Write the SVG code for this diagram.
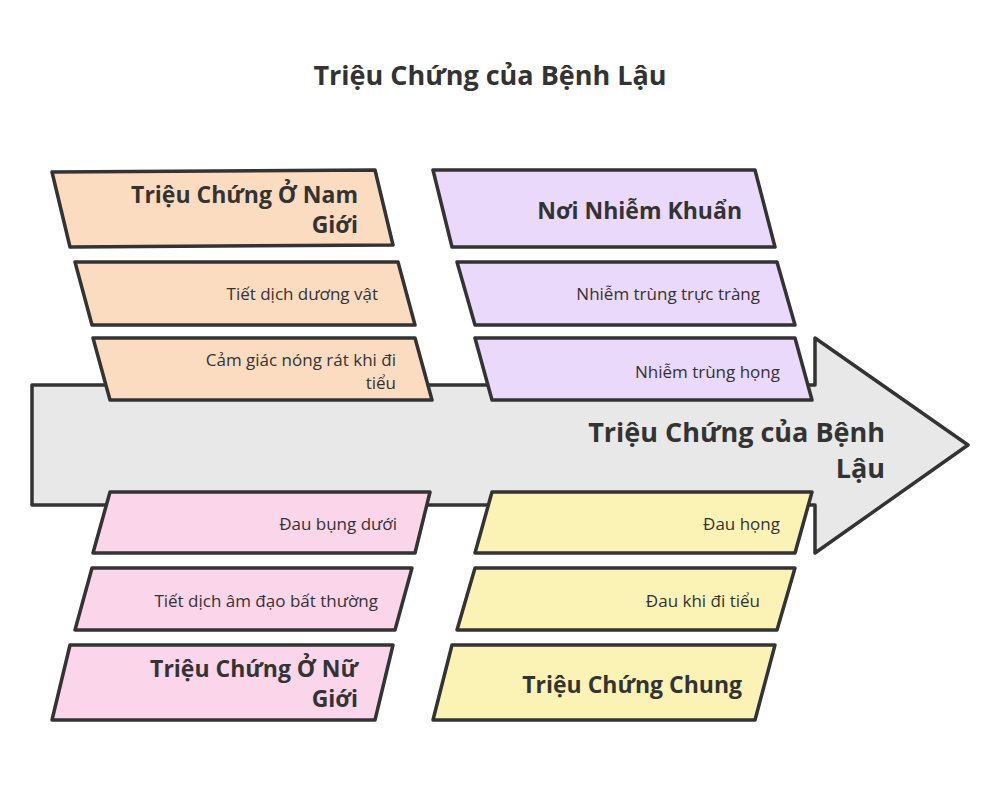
<svg xmlns="http://www.w3.org/2000/svg" width="1000" height="786" viewBox="0 0 1000 786">
<style>
.b{stroke:#333;stroke-width:3.5;stroke-linejoin:round}
.t{font-family:"Open Sans","Liberation Sans",sans-serif;fill:#333;font-size:17px;text-anchor:end}
.h{font-family:"Open Sans","Liberation Sans",sans-serif;fill:#333;font-size:23px;font-weight:bold;text-anchor:end}
.o{fill:#fcdcc0}.p{fill:#ead9fb}.k{fill:#fbd5ea}.y{fill:#fbf3b5}
</style>
<rect width="1000" height="786" fill="#fff"/>
<text x="490" y="85" style="font-family:'Open Sans','Liberation Sans',sans-serif;font-weight:bold;font-size:27px;fill:#333;text-anchor:middle">Triệu Chứng của Bệnh Lậu</text>
<g id="arrow"><polygon class="b" fill="#e8e8e8" points="32,385 815,385 815,338 968,445 815,553 815,505 32,505"/>
<text class="h" x="885" y="442" style="font-size:27px">Triệu Chứng của Bệnh</text>
<text class="h" x="885" y="478" style="font-size:27px">Lậu</text></g>
<g id="nam"><polygon class="b o" points="52,172 375,170 393,245 70,247"/><text class="h" x="358" y="203">Triệu Chứng Ở Nam</text><text class="h" x="358" y="233">Giới</text></g>
<g id="nam1"><polygon class="b o" points="75,262 398,262 415,325 92,325"/><text class="t" x="378" y="300">Tiết dịch dương vật</text></g>
<g id="nam2"><polygon class="b o" points="93,338 415,338 432,400 110,400"/><text class="t" x="396" y="366">Cảm giác nóng rát khi đi</text><text class="t" x="396" y="389">tiểu</text></g>
<g id="noi"><polygon class="b p" points="433,170 755,170 775,247 452,247"/><text class="h" x="742" y="219">Nơi Nhiễm Khuẩn</text></g>
<g id="noi1"><polygon class="b p" points="457,262 777,262 795,325 475,325"/><text class="t" x="760" y="300">Nhiễm trùng trực tràng</text></g>
<g id="noi2"><polygon class="b p" points="475,338 795,338 812,400 492,400"/><text class="t" x="780" y="378">Nhiễm trùng họng</text></g>
<g id="nu1"><polygon class="b k" points="110,492 430,492 415,553 93,553"/><text class="t" x="397" y="530">Đau bụng dưới</text></g>
<g id="nu2"><polygon class="b k" points="92,568 412,568 395,630 75,630"/><text class="t" x="378" y="607">Tiết dịch âm đạo bất thường</text></g>
<g id="nu"><polygon class="b k" points="70,645 393,645 375,720 52,720"/><text class="h" x="358" y="677">Triệu Chứng Ở Nữ</text><text class="h" x="358" y="707">Giới</text></g>
<g id="c1"><polygon class="b y" points="492,492 812,492 795,553 475,553"/><text class="t" x="780" y="530">Đau họng</text></g>
<g id="c2"><polygon class="b y" points="475,568 795,568 777,630 457,630"/><text class="t" x="760" y="607">Đau khi đi tiểu</text></g>
<g id="c"><polygon class="b y" points="452,645 775,645 755,720 433,720"/><text class="h" x="742" y="693">Triệu Chứng Chung</text></g>
<g id="connectors"/>
</svg>
